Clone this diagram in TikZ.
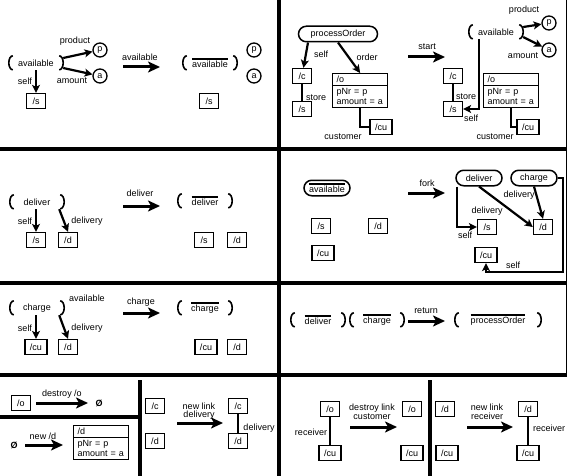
\documentclass[tikz,border=0pt]{standalone}
\usepackage{fontspec}
\setmainfont{Liberation Sans}
\usetikzlibrary{shapes.misc}
\usetikzlibrary{shapes.multipart}
\usetikzlibrary{arrows.meta}
\tikzstyle{obj}=[draw, line width=1.3pt, minimum width=19pt, minimum height=15pt, inner xsep=5pt, inner ysep=0pt]
\tikzstyle{attobj}=[draw, line width=1.3pt, rectangle split, rectangle split parts=2, text width=47pt, align=left, inner xsep=4pt, inner ysep=2pt, anchor=north west]
\tikzstyle{val}=[draw, circle, line width=1.3pt, minimum size=14pt, inner sep=0pt]
\tikzstyle{pstate}=[minimum height=14pt, minimum width=54pt, inner xsep=8pt, inner ysep=0pt]
\tikzstyle{astate}=[draw, rounded rectangle, line width=1.5pt, minimum height=15.5pt, minimum width=50pt, inner xsep=2pt, inner ysep=0pt]
\tikzstyle{lnk}=[line width=1.8pt]
\tikzstyle{refarrow}=[line width=2.2pt, -{Stealth[length=8pt, width=8pt, inset=2pt]}]
\tikzstyle{trans}=[line width=3pt, -{Stealth[length=12pt, width=11pt, inset=3pt]}]
\tikzstyle{wall}=[line width=3.5pt]
\tikzstyle{lbl}=[inner sep=0pt]
\tikzstyle{lbl2}=[inner sep=0pt, align=center, font=\fontsize{9}{8.5}\selectfont]
\newcommand{\doneover}[1]{\setbox0=\hbox{#1}\rlap{\raisebox{\dimexpr\ht0+1.2pt\relax}{\rule{\wd0}{1.5pt}}}\box0}
\newcommand{\stateparens}[1]{%
  \draw[line width=1.6pt] ([xshift=4pt]#1.north west) arc[start angle=90, end angle=270, x radius=4pt, y radius=7pt];
  \draw[line width=1.6pt] ([xshift=-4pt]#1.north east) arc[start angle=90, end angle=-90, x radius=4pt, y radius=7pt]}

\begin{document}
\begin{tikzpicture}[x=1pt, y=-1pt, every node/.style={font=\fontsize{9}{10.5}\selectfont}]
        \useasboundingbox (0,0) rectangle (567,476);
        \draw[wall] (279,0) -- (279,476);
        \draw[wall] (0,149) -- (567,149);
        \draw[wall] (0,283) -- (567,283);
        \draw[wall] (0,375) -- (567,375);
        \draw[wall] (0,417) -- (140,417);
        \draw[wall] (140,380) -- (140,476);
        \draw[wall] (430,380) -- (430,476);
        \draw[line width=1pt] (566,0) -- (566,375);

        \node[pstate] (av1) at (36,63) {available};
        \stateparens{av1};
        \node[val] (p1) at (100,50) {p};
        \node[val] (a1) at (100,76) {a};
        \node[obj] (s1) at (36,101) {/s};
        \draw[refarrow] ([yshift=5]av1.east) -- (p1);
        \draw[refarrow] ([yshift=-5]av1.east) -- (a1);
        \draw[refarrow] (av1) -- (s1);
        \node[lbl] (lprod1) at (75,41) {product};
        \node[lbl] (lamt1) at (72,81) {amount};
        \node[lbl] (lself1) at (25,81) {self};
        \coordinate (t1s) at (123,67);
        \coordinate (t1e) at (160,67);
        \draw[trans] (t1s) -- (t1e);
        \node[lbl] (lt1) at (140,57) {available};
        \node[pstate] (av1d) at (210,63) {\doneover{available}};
        \stateparens{av1d};
        \node[val] (p1d) at (254,50) {p};
        \node[val] (a1d) at (254,76) {a};
        \node[obj] (s1d) at (209,101) {/s};

        \node[astate, minimum width=83pt] (po2) at (338,34) {processOrder};
        \node[obj] (c2) at (302,76) {/c};
        \node[obj] (s2) at (302,109) {/s};
        \node[attobj] (o2) at (332,73) {/o\nodepart{two}pNr = p\\amount = a};
        \node[obj] (cu2) at (381,127) {/cu};
        \draw[refarrow] ([xshift=-30]po2.south) -- (c2);
        \draw[refarrow] (po2.south) -- (o2.north);
        \draw[lnk] (c2) -- (s2);
        \draw[lnk] (o2.south) |- (cu2.west);
        \node[lbl] (lself2) at (321,54) {self};
        \node[lbl] (lord2) at (367,57) {order};
        \node[lbl] (lsto2) at (316,98) {store};
        \node[lbl] (lcus2) at (343,137) {customer};
        \coordinate (t2s) at (408,57);
        \coordinate (t2e) at (445,57);
        \draw[trans] (t2s) -- (t2e);
        \node[lbl] (lt2) at (427,47) {start};
        \node[pstate] (av2) at (496,32) {available};
        \stateparens{av2};
        \node[val] (p2) at (549,23) {p};
        \node[val] (a2) at (549,50) {a};
        \node[obj] (c2r) at (453,76) {/c};
        \node[obj] (s2r) at (453,109) {/s};
        \node[attobj] (o2r) at (483,73) {/o\nodepart{two}pNr = p\\amount = a};
        \node[obj] (cu2r) at (528,127) {/cu};
        \draw[refarrow] ([yshift=5]av2.east) -- (p2);
        \draw[refarrow] ([yshift=-5]av2.east) -- (a2);
        \draw[lnk] (c2r) -- (s2r);
        \draw[refarrow] ([xshift=-17]av2.south) |- (s2r.east);
        \draw[lnk] (o2r.south) |- (cu2r.west);
        \node[lbl] (lprod2) at (524,10) {product};
        \node[lbl] (lamt2) at (523,56) {amount};
        \node[lbl] (lsto2r) at (466,97) {store};
        \node[lbl] (lself2r) at (471,118) {self};
        \node[lbl] (lcus2r) at (495,137) {customer};

        \node[pstate] (dl3) at (37,202) {deliver};
        \stateparens{dl3};
        \node[obj] (s3) at (36,240) {/s};
        \node[obj] (d3) at (68,240) {/d};
        \draw[refarrow] (dl3.south -| s3) -- (s3);
        \draw[refarrow] ([xshift=-5]dl3.south east) -- (d3.north);
        \node[lbl] (lself3) at (25,221) {self};
        \node[lbl] (ldel3) at (87,221) {delivery};
        \coordinate (t3s) at (123,206);
        \coordinate (t3e) at (160,206);
        \draw[trans] (t3s) -- (t3e);
        \node[lbl] (lt3) at (140,193) {deliver};
        \node[pstate] (dl3d) at (205,201) {\doneover{deliver}};
        \stateparens{dl3d};
        \node[obj] (s3d) at (204,240) {/s};
        \node[obj] (d3d) at (237,240) {/d};

        \node[astate] (av4) at (327,188) {\doneover{available}};
        \node[obj] (s4) at (321,226) {/s};
        \node[obj] (d4) at (378,226) {/d};
        \node[obj] (cu4) at (323,253) {/cu};
        \coordinate (t4s) at (408,193);
        \coordinate (t4e) at (445,193);
        \draw[trans] (t4s) -- (t4e);
        \node[lbl] (lt4) at (427,183) {fork};
        \node[astate] (dl4) at (479,178) {deliver};
        \node[astate] (ch4) at (534,178) {charge};
        \node[obj] (s4r) at (487,227) {/s};
        \node[obj] (d4r) at (543,227) {/d};
        \node[obj] (cu4r) at (486,255) {/cu};
        \coordinate (k4) at (563,272);
        \draw[refarrow] ([xshift=-22]dl4.south) |- (s4r.west);
        \draw[refarrow] (dl4.south) -- (d4r.west);
        \draw[refarrow] (ch4.south) -- (d4r.north);
        \draw[refarrow] (ch4.east) -| (k4) -| (cu4r.south);
        \node[lbl] (lself4) at (465,235) {self};
        \node[lbl] (ldel4a) at (487,211) {delivery};
        \node[lbl] (ldel4b) at (519,195) {delivery};
        \node[lbl] (lself4b) at (513,265) {self};

        \node[pstate] (ch5) at (37,308) {charge};
        \stateparens{ch5};
        \node[lbl] (lav5) at (87,298) {available};
        \node[obj] (cu5) at (36,347) {/cu};
        \node[obj] (d5) at (68,347) {/d};
        \draw[refarrow] (ch5.south -| cu5) -- (cu5);
        \draw[refarrow] ([xshift=-5]ch5.south east) -- (d5.north);
        \node[lbl] (lself5) at (25,328) {self};
        \node[lbl] (ldel5) at (87,328) {delivery};
        \coordinate (t5s) at (123,313);
        \coordinate (t5e) at (160,313);
        \draw[trans] (t5s) -- (t5e);
        \node[lbl] (lt5) at (141,302) {charge};
        \node[pstate] (ch5d) at (205,308) {\doneover{charge}};
        \stateparens{ch5d};
        \node[obj] (cu5d) at (206,347) {/cu};
        \node[obj] (d5d) at (237,347) {/d};

        \node[pstate] (dl6) at (318,320) {\doneover{deliver}};
        \stateparens{dl6};
        \node[pstate] (ch6) at (377,320) {\doneover{charge}};
        \stateparens{ch6};
        \coordinate (t6s) at (408,321);
        \coordinate (t6e) at (445,321);
        \draw[trans] (t6s) -- (t6e);
        \node[lbl] (lt6) at (426,311) {return};
        \node[pstate, minimum width=86pt] (po6) at (498,320) {\doneover{processOrder}};
        \stateparens{po6};

        \node[obj] (o7) at (21,403) {/o};
        \node[lbl] (nil7) at (99,403) {\bfseries Ø};
        \coordinate (t7s) at (36,403);
        \coordinate (t7e) at (88,403);
        \draw[trans] (t7s) -- (t7e);
        \node[lbl] (lt7) at (62,394) {destroy /o};
        \node[lbl] (nil7b) at (14,445) {\bfseries Ø};
        \coordinate (t7bs) at (25,445);
        \coordinate (t7be) at (63,445);
        \draw[trans] (t7bs) -- (t7be);
        \node[lbl] (lt7b) at (43,436) {new /d};
        \node[attobj] (d7) at (73,425) {/d\nodepart{two}pNr = p\\amount = a};

        \node[obj] (c8) at (155,406) {/c};
        \node[obj] (d8) at (155,441) {/d};
        \coordinate (t8s) at (177,423);
        \coordinate (t8e) at (223,423);
        \draw[trans] (t8s) -- (t8e);
        \node[lbl2] (lt8) at (199,411) {new link\\delivery};
        \node[obj] (c8r) at (238,406) {/c};
        \node[obj] (d8r) at (238,441) {/d};
        \draw[lnk] (c8r) -- (d8r);
        \node[lbl] (ldel8) at (259,428) {delivery};

        \node[obj] (o9) at (330,409) {/o};
        \node[obj] (cu9) at (330,453) {/cu};
        \draw[lnk] (o9) -- (cu9);
        \node[lbl] (lrec9) at (311,432) {receiver};
        \coordinate (t9s) at (350,427);
        \coordinate (t9e) at (397,427);
        \draw[trans] (t9s) -- (t9e);
        \node[lbl2] (lt9) at (372,412) {destroy link\\customer};
        \node[obj] (o9r) at (412,409) {/o};
        \node[obj] (cu9r) at (412,453) {/cu};

        \node[obj] (d10) at (445,409) {/d};
        \node[obj] (cu10) at (447,453) {/cu};
        \coordinate (t10s) at (467,427);
        \coordinate (t10e) at (513,427);
        \draw[trans] (t10s) -- (t10e);
        \node[lbl2] (lt10) at (487,412) {new link\\receiver};
        \node[obj] (d10r) at (528,409) {/d};
        \node[obj] (cu10r) at (528,453) {/cu};
        \draw[lnk] (d10r) -- (cu10r);
        \node[lbl] (lrec10) at (549,428) {receiver};
\end{tikzpicture}
\end{document}
